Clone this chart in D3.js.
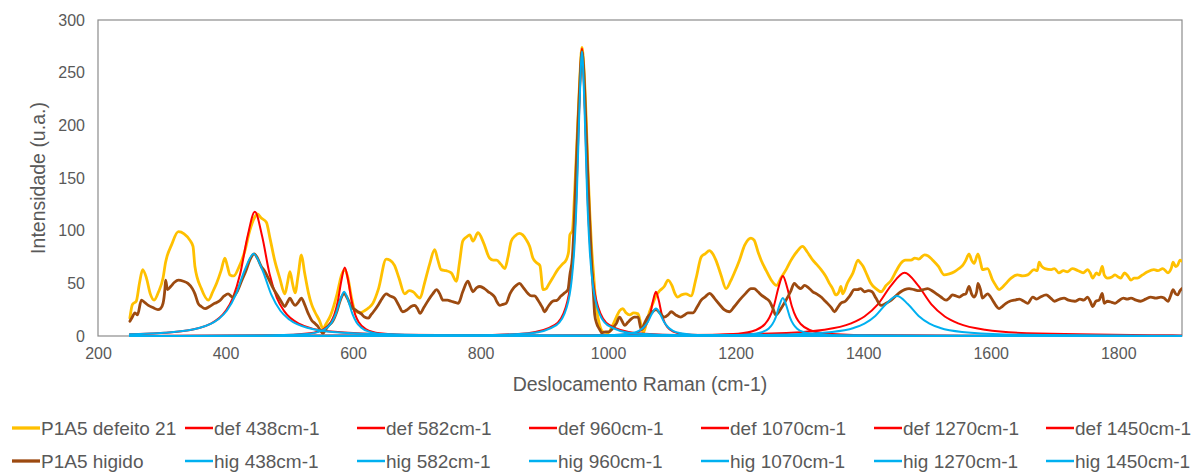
<!DOCTYPE html>
<html><head><meta charset="utf-8">
<script src="https://cdn.jsdelivr.net/npm/d3@7"></script>
<style>
html,body{margin:0;padding:0;background:#fff;}
svg text{font-family:"Liberation Sans",Arial,sans-serif;fill:#595959;}
</style></head>
<body><svg id="chart" width="1198" height="472"></svg>
<script>
// ---------------- DATA ----------------
const xTicks = [200,400,600,800,1000,1200,1400,1600,1800];
const yTicks = [0,50,100,150,200,250,300];
const xTitle = "Deslocamento Raman (cm-1)";
const yTitle = "Intensidade (u.a.)";

const defeito21 = [[250,17],[254,30],[260,33],[265,50],[270,63],[276,55],[282,40],[288,34],[295,42],[302,55],[306,70],[308,75],[315,86],[326,99],[335,97],[344,91],[349,85],[352,66],[362,45],[373,34],[380,42],[386,50],[393,62],[399,74],[403,66],[407,58],[413,57],[420,64],[430,80],[438,100],[446,113],[450,116],[456,112],[464,108],[470,92],[477,72],[485,55],[493,40],[497,50],[501,61],[505,50],[509,41],[514,58],[519,77],[524,60],[530,41],[535,30],[540,23],[547,15],[553,7],[558,12],[565,20],[575,40],[582,58],[587,63],[592,55],[598,35],[603,24],[610,22],[618,24],[625,27],[631,31],[640,45],[652,73],[658,72],[665,67],[672,55],[681,40],[688,43],[694,42],[705,36],[712,50],[720,68],[728,82],[733,72],[738,63],[746,62],[754,60],[762,52],[767,70],[772,90],[778,94],[783,96],[788,90],[796,98],[805,88],[814,74],[820,72],[825,72],[832,68],[838,64],[843,75],[848,90],[854,95],[861,97.5],[866,96],[872,91],[877,85],[882,74],[887,70],[893,67],[898,44],[903,45],[906,48],[913,55],[921,63],[928,68],[934,72],[938,80],[940,96],[944,100],[947,130],[950,170],[953,210],[956,250],[959,274],[962,255],[965,215],[968,165],[971,120],[974,85],[977,60],[981,30],[986,12],[992,4],[1000,3],[1007,10],[1013,18],[1018,24],[1023,26],[1028,22],[1034,20],[1040,22],[1047,21],[1051,12],[1055,3],[1060,12],[1065,23],[1071,32],[1075,38],[1081,43],[1088,47],[1094,53],[1100,48],[1105,40],[1109,37],[1115,39],[1122,40],[1130,38],[1138,55],[1146,75],[1152,78],[1159,81],[1164,78],[1169,72],[1177,58],[1185,45],[1192,52],[1198,60],[1206,72],[1214,86],[1224,93],[1229,91],[1235,80],[1240,72],[1248,62],[1256,53],[1264,48],[1271,55],[1280,64],[1287,72],[1296,80],[1305,85],[1312,80],[1321,72],[1327,68],[1334,63],[1341,57],[1347,50],[1352,45],[1357,39],[1362,42],[1365,47],[1368,40],[1375,50],[1384,60],[1392,72],[1395,70],[1400,66],[1406,58],[1412,50],[1420,45],[1428,42],[1436,48],[1444,53],[1452,62],[1459,69],[1466,72],[1475,72],[1481,74],[1487,73],[1496,77],[1502,76],[1509,72],[1518,66],[1527,58],[1535,59],[1543,61],[1550,64],[1556,67],[1561,72],[1566,78],[1570,72],[1574,69],[1580,78],[1584,70],[1587,63],[1595,64],[1603,53],[1608,48],[1613,44],[1618,46],[1624,50],[1632,55],[1642,58],[1650,57],[1658,58],[1668,63],[1673,62],[1676,70],[1680,66],[1685,64],[1695,63],[1700,64],[1707,60],[1714,62],[1720,61],[1728,64],[1737,62],[1745,60],[1752,63],[1756,60],[1760,55],[1766,60],[1770,58],[1775,66],[1778,58],[1783,55],[1790,56],[1795,58],[1800,56],[1804,55],[1810,60],[1815,57],[1820,53],[1825,55],[1830,55],[1838,58],[1846,61],[1856,63],[1862,62],[1870,64],[1878,60],[1883,64],[1886,70],[1890,66],[1893,67],[1897,72],[1900,71]];

const higido = [[250,14],[253,17],[258,22],[262,20],[268,34],[273,32],[279,29],[286,27],[294,25],[298,26],[302,31],[305,45],[306,53],[309,44],[314,47],[320,51],[326,53],[334,52],[341,50],[348,45],[352,40],[357,31],[362,28],[368,26],[375,28],[383,31],[390,33],[398,38],[404,40],[411,37],[418,42],[425,52],[432,62],[438,72],[445,78],[450,74],[456,66],[461,62],[467,55],[475,45],[483,37],[488,32],[493,28],[497,32],[501,36],[505,32],[509,29],[514,32],[519,36],[524,30],[530,21],[535,15],[540,12],[545,9],[549,5],[553,2.5],[557,6],[562,10],[568,14],[575,24],[580,34],[586,40],[591,36],[597,28],[603,25],[608,23],[613,21],[618,18],[624,17],[628,20],[632,23],[640,30],[646,36],[652,40],[658,38],[665,36],[671,30],[678,23],[685,25],[691,28],[697,29],[701,26],[705,21.5],[711,27],[718,34],[725,40],[731,44],[736,40],[741,34],[748,34],[754,33],[760,32],[765,31],[772,42],[780,52],[784,47],[788,42],[794,46],[799,47],[806,45],[812,42],[817,40],[822,37],[826,32],[830,29],[835,30],[840,31],[846,40],[851,45],[856,48],[861,50],[867,46],[874,40.5],[880,38],[885,38],[889,35],[893,31],[897,27],[900,23],[906,28],[913,33],[920,34],[926,38],[932,41],[937,44],[940,58],[944,75],[947,110],[950,160],[953,205],[956,245],[959,270],[962,250],[965,205],[968,155],[971,110],[974,70],[977,40],[979,20],[982,12],[984,9],[987,6],[990,3],[996,4],[1001,4],[1008,8],[1013,12],[1018,18],[1022,14],[1026,10],[1031,13],[1036,16],[1041,18],[1047,18],[1052,6],[1057,12],[1062,18],[1068,22],[1075,25],[1081,22],[1088,18],[1094,20],[1099,23],[1106,20],[1114,18],[1120,20],[1125,22],[1133,22],[1140,28],[1146,34],[1152,37],[1159,40.5],[1164,38],[1169,34],[1176,29],[1182,25],[1190,23],[1198,28],[1206,34],[1215,40],[1224,45],[1229,45],[1235,42],[1240,39],[1247,36],[1253,33],[1258,27],[1263,20],[1270,25],[1279,34],[1286,42],[1292,50],[1297,47],[1302,45],[1308,48],[1314,46],[1321,42],[1327,40],[1334,37],[1339,34],[1344,31],[1350,27],[1355,23],[1360,27],[1365,31],[1372,33],[1379,38],[1386,44],[1391,44],[1396,45],[1402,42],[1408,43],[1414,42],[1420,36],[1428,29],[1436,31],[1444,34],[1451,38],[1459,42],[1465,44],[1472,45],[1480,44],[1487,43],[1494,44],[1501,45],[1508,43],[1514,40.5],[1522,37],[1530,34],[1535,36],[1540,39],[1546,38],[1551,37],[1556,39],[1561,40],[1566,47],[1570,40],[1574,37],[1578,42],[1580,50],[1584,44],[1587,36],[1595,40],[1603,34],[1608,29],[1613,26],[1618,28],[1624,31],[1630,33],[1637,34],[1645,35],[1652,33],[1658,31],[1666,37],[1672,35],[1678,37],[1687,39],[1694,36],[1700,33],[1708,35],[1715,36],[1722,34],[1732,33],[1740,35],[1746,34],[1752,37],[1756,33],[1760,28],[1765,33],[1770,34],[1775,40.5],[1778,31],[1783,33],[1790,32],[1795,31],[1802,34],[1808,36],[1814,35],[1820,36],[1828,34],[1835,33],[1843,35],[1851,37],[1859,36],[1867,37],[1872,36],[1878,33],[1882,38],[1886,44],[1890,40],[1893,39],[1897,43],[1900,45]];

// fitted bands (defeito)
const def438 = [[250,1.6],[331,4.5],[377,11.8],[400,23.6],[411.5,36.3],[423,59],[434.5,94.4],[446,118],[457.5,94.4],[469,59],[480.5,36.3],[492,23.6],[515,11.8],[561,4.5],[676,1.2],[906,0.3],[1900,0]];
const def582 = [[250,0.1],[367,0.2],[477,0.6],[532,2.5],[554,6.5],[565,13],[570.5,20],[576,32.5],[581.5,52],[587,65],[592.5,52],[598,32.5],[603.5,20],[609,13],[620,6.5],[642,2.5],[697,0.6],[807,0.2],[1900,0]];
const def960 = [[250,0],[789,0.7],[874,2.7],[916.5,10.5],[933.5,27.3],[942,54.6],[946.3,84],[950.5,136.5],[954.8,218],[959,273],[963.3,218],[967.5,136.5],[971.8,84],[976,54.6],[984.5,27.3],[1001.5,10.5],[1044,2.7],[1129,0.7],[1900,0]];
const def1070 = [[250,0],[895,0.1],[985,0.4],[1030,1.6],[1048,4.2],[1057,8.4],[1061.5,12.9],[1066,21],[1070.5,33.6],[1075,42],[1079.5,33.6],[1084,21],[1088.5,12.9],[1093,8.4],[1102,4.2],[1120,1.6],[1165,0.4],[1255,0.1],[1900,0]];
const def1270 = [[250,0],[994,0.1],[1134,0.6],[1204,2.2],[1232,5.7],[1246,11.4],[1253,17.5],[1260,28.5],[1267,45.6],[1274,57],[1281,45.6],[1288,28.5],[1295,17.5],[1302,11.4],[1316,5.7],[1344,2.2],[1414,0.6],[1554,0.1],[1900,0]];
const def1450 = [[250,0.1],[625,0.2],[1045,0.6],[1255,2.3],[1339,6],[1381,12],[1402,18.5],[1423,30],[1444,48],[1465,60],[1486,48],[1507,30],[1528,18.5],[1549,12],[1591,6],[1675,2.3],[1885,0.6],[1900,0.55]];
// fitted bands (higido)
const hig438 = [[250,1.6],[304,3],[360,7.8],[388,15.6],[402,24],[416,39],[430,62.4],[444,78],[458,62.4],[472,39],[486,24],[500,15.6],[528,7.8],[584,3],[724,0.8],[1004,0.2],[1900,0]];
const hig582 = [[250,0.1],[326,0.1],[456,0.4],[521,1.6],[547,4.2],[560,8.4],[566.5,12.9],[573,21],[579.5,33.6],[586,42],[592.5,33.6],[599,21],[605.5,12.9],[612,8.4],[625,4.2],[651,1.6],[716,0.4],[846,0.1],[1900,0]];
const hig960 = [[250,0],[799,0.7],[879,2.7],[919,10.4],[935,27],[943,54],[947,83],[951,135],[955,216],[959,270],[963,216],[967,135],[971,83],[975,54],[983,27],[999,10.4],[1039,2.7],[1119,0.7],[1900,0]];
const hig1070 = [[250,0],[815,0.1],[945,0.3],[1010,1],[1036,2.6],[1049,5.2],[1055.5,8],[1062,13],[1068.5,20.8],[1075,26],[1081.5,20.8],[1088,13],[1094.5,8],[1101,5.2],[1114,2.6],[1140,1],[1205,0.3],[1335,0.1],[1900,0]];
const hig1270 = [[250,0],[1054,0.1],[1164,0.4],[1219,1.4],[1241,3.6],[1252,7.2],[1257.5,11.1],[1263,18],[1268.5,28.8],[1274,36],[1279.5,28.8],[1285,18],[1290.5,11.1],[1296,7.2],[1307,3.6],[1329,1.4],[1384,0.4],[1494,0.1],[1900,0]];
const hig1450 = [[250,0],[773,0.1],[1113,0.4],[1283,1.5],[1351,3.8],[1385,7.6],[1402,11.7],[1419,19],[1436,30.4],[1453,38],[1470,30.4],[1487,19],[1504,11.7],[1521,7.6],[1555,3.8],[1623,1.5],[1793,0.4],[1900,0.2]];

const seriesNames = ["P1A5 defeito 21","def 438cm-1","def 582cm-1","def 960cm-1","def 1070cm-1","def 1270cm-1","def 1450cm-1",
                     "P1A5 higido","hig 438cm-1","hig 582cm-1","hig 960cm-1","hig 1070cm-1","hig 1270cm-1","hig 1450cm-1"];
const seriesData = [defeito21,def438,def582,def960,def1070,def1270,def1450,
                    higido,hig438,hig582,hig960,hig1070,hig1270,hig1450];
const seriesColors = ["#FFC000","#FF0000","#FF0000","#FF0000","#FF0000","#FF0000","#FF0000",
                      "#9C4A10","#00B0F0","#00B0F0","#00B0F0","#00B0F0","#00B0F0","#00B0F0"];
const seriesWidths = [2.8,2,2,2,2,2,2, 2.8,2,2,2,2,2,2];

// ---------------- CHART ----------------
const svg = d3.select("#chart");
svg.append("rect").attr("width",1198).attr("height",472).attr("fill","#fff");
const L=98, R=1182, T=20, B=336;
const x = d3.scaleLinear().domain([200,1900]).range([L,R]);
const y = d3.scaleLinear().domain([0,300]).range([B,T]);

svg.append("defs").append("clipPath").attr("id","clip")
  .append("rect").attr("x",L).attr("y",T-2).attr("width",R-L).attr("height",B-T+4);

// border
svg.append("rect").attr("x",L).attr("y",T).attr("width",R-L).attr("height",B-T)
  .attr("fill","none").attr("stroke","#8c8c8c").attr("stroke-width",1.2);

// axes
const gx = svg.append("g").attr("transform",`translate(0,${B})`)
  .call(d3.axisBottom(x).tickValues(xTicks).tickSize(0).tickPadding(12).tickFormat(d3.format("d")));
gx.select(".domain").remove();
gx.selectAll("text").attr("font-size",16).attr("fill","#595959");
const gy = svg.append("g").attr("transform",`translate(${L},0)`)
  .call(d3.axisLeft(y).tickValues(yTicks).tickSize(0).tickPadding(13).tickFormat(d3.format("d")));
gy.select(".domain").remove();
gy.selectAll("text").attr("font-size",16).attr("fill","#595959");

svg.append("text").attr("x",(L+R)/2).attr("y",391).attr("text-anchor","middle")
  .attr("font-size",19.5).text(xTitle);
svg.append("text").attr("transform",`translate(45,${(T+B)/2}) rotate(-90)`).attr("text-anchor","middle")
  .attr("font-size",19.5).text(yTitle);

// lines
const line = d3.line().x(d=>x(d[0])).y(d=>y(d[1])).curve(d3.curveMonotoneX);
const plot = svg.append("g").attr("clip-path","url(#clip)");
seriesData.forEach((s,i)=>{
  plot.append("path").datum(s).attr("d",line).attr("fill","none")
    .attr("stroke",seriesColors[i]).attr("stroke-width",seriesWidths[i])
    .attr("stroke-linejoin","round").attr("stroke-linecap","round");
});

// legend
const colX = [12,185,357,529,701,874,1046];
const rowY = [428,461];
seriesNames.forEach((n,i)=>{
  const r = Math.floor(i/7), c = i%7;
  const g = svg.append("g").attr("transform",`translate(${colX[c]},${rowY[r]})`);
  g.append("line").attr("x1",0).attr("x2",28).attr("y1",0).attr("y2",0)
    .attr("stroke",seriesColors[i]).attr("stroke-width",seriesWidths[i]+0.5);
  g.append("text").attr("x",29).attr("y",0).attr("dy","0.35em").attr("font-size",19).text(n);
});
</script></body></html>
